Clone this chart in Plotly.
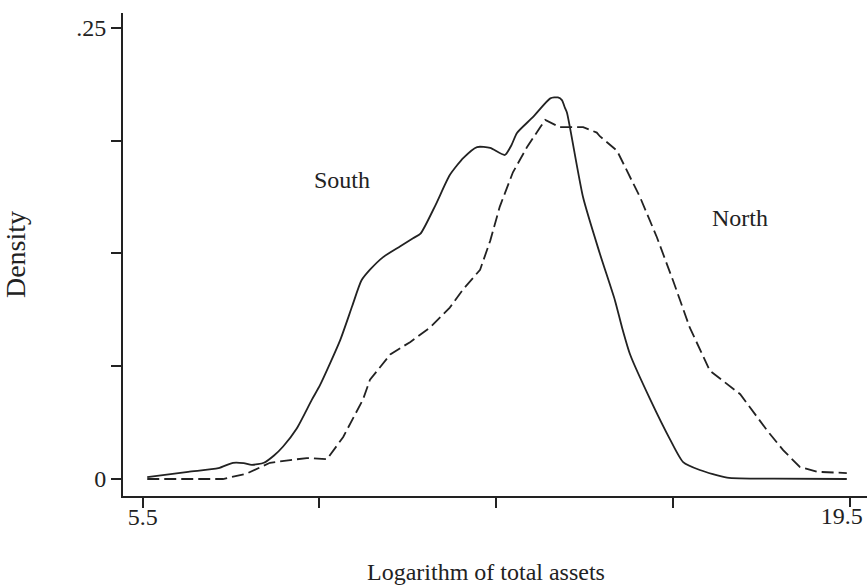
import plotly.graph_objects as go

# South (solid) density estimate
south_x = [5.59, 6.4, 7.0, 7.29, 7.5, 7.66, 7.9, 8.1, 8.28, 8.55, 8.85, 9.01, 9.41, 9.65, 9.83,
           10.0, 10.26, 10.6, 10.86, 11.0, 11.3, 11.58, 11.85, 12.12, 12.38, 12.67, 12.8, 12.91,
           13.23, 13.57, 13.72, 13.8, 13.86, 13.9, 14.22, 14.55, 14.85, 14.99, 15.15, 15.55,
           15.94, 16.2, 16.53, 17.07, 18.0, 19.44]
south_y = [0.001, 0.004, 0.006, 0.009, 0.0088, 0.0078, 0.009, 0.013, 0.018, 0.028, 0.044, 0.052,
           0.077, 0.096, 0.110, 0.116, 0.123, 0.129, 0.1336, 0.136, 0.152, 0.1685, 0.178, 0.184,
           0.1835, 0.1796, 0.185, 0.1918, 0.2007, 0.211, 0.2115, 0.210, 0.2057, 0.203, 0.156,
           0.125, 0.099, 0.084, 0.069, 0.044, 0.022, 0.0094, 0.005, 0.0008, 0.0002, 0.0]

# North (dashed) density estimate
north_x = [5.59, 7.09, 7.56, 8.02, 8.42, 8.75, 9.15, 9.47, 9.86, 10.0, 10.4, 10.8, 11.19, 11.58,
           11.84, 12.18, 12.38, 12.57, 12.83, 13.11, 13.37, 13.47, 13.76, 14.22, 14.49, 14.55,
           14.89, 15.09, 15.35, 15.68, 16.0, 16.33, 16.73, 17.33, 17.86, 18.18, 18.51, 18.85, 19.44]
north_y = [0.0, 0.0, 0.003, 0.009, 0.0105, 0.0116, 0.011, 0.0233, 0.044, 0.055, 0.069, 0.076,
           0.084, 0.095, 0.105, 0.116, 0.132, 0.151, 0.170, 0.184, 0.195, 0.199, 0.195, 0.195,
           0.192, 0.190, 0.182, 0.171, 0.156, 0.134, 0.110, 0.084, 0.060, 0.047, 0.027, 0.016,
           0.0067, 0.004, 0.0033]

x_tickvals = [5.5, 9, 12.5, 16]
x_ticktext = ["5.5", "", "", ""]
x_last_tick = [19.5]
x_last_text = ["19.5"]
y_tickvals = [0, 0.0625, 0.125, 0.1875, 0.25]
y_ticktext = ["0", "", "", "", ".25"]

labels = ["South", "North"]
label_x = [9.45, 17.32]
label_y = [0.1657, 0.1447]

x_title = "Logarithm of total assets"
y_title = "Density"

ink = "#222222"
font = "Liberation Serif, Times New Roman, serif"
xrange = [5.11, 19.84]

fig = go.Figure()
fig.add_trace(go.Scatter(x=south_x, y=south_y, mode="lines", line=dict(color=ink, width=1.8, shape="spline", smoothing=0.6),
                         showlegend=False, hoverinfo="skip"))
fig.add_trace(go.Scatter(x=north_x, y=north_y, mode="lines", line=dict(color=ink, width=1.8, dash="12px,5px"),
                         showlegend=False, hoverinfo="skip"))

for t, xx, yy in zip(labels, label_x, label_y):
    fig.add_annotation(x=xx, y=yy, text=t, showarrow=False, font=dict(family=font, size=24, color=ink))

fig.add_annotation(x=0.488, y=-0.158, xref="paper", yref="paper", text=x_title, showarrow=False,
                   xanchor="center", yanchor="middle", font=dict(family=font, size=24, color=ink))

fig.update_layout(
    width=867, height=586,
    margin=dict(l=123, r=0, t=13, b=90),
    paper_bgcolor="white", plot_bgcolor="white",
    font=dict(family=font, size=24, color=ink),
    xaxis2=dict(overlaying="x", matches="x", side="bottom", range=xrange, showgrid=False, zeroline=False,
                showline=False, ticks="outside", ticklen=10, tickwidth=2, tickcolor=ink,
                tickvals=x_last_tick, ticktext=x_last_text, ticklabelshift=-8, ticklabelstandoff=-12,
                tickfont=dict(family=font, size=24, color=ink)),
)
# invisible helper trace to activate the second x axis
fig.add_trace(go.Scatter(x=[x_last_tick[0]], y=[0], xaxis="x2", mode="markers", marker=dict(opacity=0),
                         showlegend=False, hoverinfo="skip"))

fig.update_xaxes(selector=dict(anchor="y"), range=xrange, showgrid=False, zeroline=False, showline=True, linecolor=ink, linewidth=2,
                 ticks="outside", ticklen=10, tickwidth=2, tickcolor=ink, ticklabelstandoff=-12,
                 tickvals=x_tickvals, ticktext=x_ticktext, tickfont=dict(family=font, size=24, color=ink))
fig.update_layout(xaxis=dict(range=xrange, showgrid=False, zeroline=False, showline=True, linecolor=ink, linewidth=2,
                             ticks="outside", ticklen=10, tickwidth=2, tickcolor=ink, ticklabelstandoff=-12,
                             tickvals=x_tickvals, ticktext=x_ticktext, tickfont=dict(family=font, size=24, color=ink)))
fig.update_yaxes(range=[-0.00942, 0.2583], showgrid=False, zeroline=False, showline=True, linecolor=ink, linewidth=2,
                 ticks="outside", ticklen=10, tickwidth=2, tickcolor=ink,
                 tickvals=y_tickvals, ticktext=y_ticktext, tickfont=dict(family=font, size=24, color=ink),
                 title=dict(text=y_title, standoff=44, font=dict(family=font, size=28, color=ink)))

fig.write_html("out.html")
